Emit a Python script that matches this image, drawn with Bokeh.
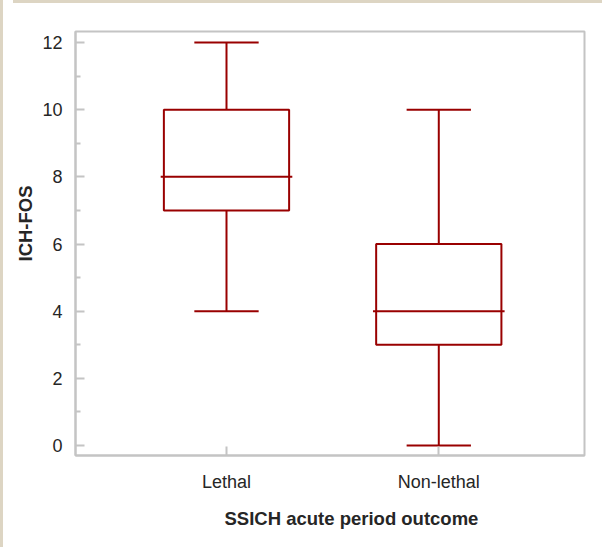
from bokeh.plotting import figure
from bokeh.models import ColumnDataSource, FixedTicker, Range1d, Title, Div
from bokeh.layouts import row, column
from bokeh.embed import file_html
from bokeh.resources import INLINE

# ---- data ----
categories = ["Lethal", "Non-lethal"]
positions = [1, 2]
lower = [4, 0]
q1 = [7, 3]
median = [8, 4]
q3 = [10, 6]
upper = [12, 10]
y_ticks = [0, 2, 4, 6, 8, 10, 12]
x_title = "SSICH acute period outcome"
y_title = "ICH-FOS"

BOX_W = 0.59
MED_W = 0.62
CAP_W = 0.303
RED = "#990000"
GRID = "#c4c4c4"
FONT = "Liberation Sans"
TXT = "#262626"
BEIGE = "#ddd5c3"

src = ColumnDataSource(dict(
    x=positions, lower=lower, q1=q1, median=median, q3=q3, upper=upper,
    bl=[p - BOX_W / 2 for p in positions], br=[p + BOX_W / 2 for p in positions],
    ml=[p - MED_W / 2 for p in positions], mr=[p + MED_W / 2 for p in positions],
    cl=[p - CAP_W / 2 for p in positions], cr=[p + CAP_W / 2 for p in positions],
))

p = figure(width=589, height=538, output_backend="svg", toolbar_location=None,
           x_range=Range1d(0.2887, 2.6864), y_range=Range1d(-0.3, 12.33),
           min_border_left=65, min_border_right=13, min_border_top=23, min_border_bottom=91)

p.background_fill_color = "white"
p.border_fill_color = "white"
p.outline_line_color = GRID
p.outline_line_width = 2
p.xgrid.visible = False
p.ygrid.visible = False

# whiskers
p.segment(x0="x", y0="q3", x1="x", y1="upper", source=src, line_color=RED, line_width=2)
p.segment(x0="x", y0="lower", x1="x", y1="q1", source=src, line_color=RED, line_width=2)
# caps
p.segment(x0="cl", y0="upper", x1="cr", y1="upper", source=src, line_color=RED, line_width=2)
p.segment(x0="cl", y0="lower", x1="cr", y1="lower", source=src, line_color=RED, line_width=2)
# boxes
p.quad(left="bl", right="br", bottom="q1", top="q3", source=src,
       fill_color=None, line_color=RED, line_width=2)
# medians
p.segment(x0="ml", y0="median", x1="mr", y1="median", source=src, line_color=RED, line_width=2)

for ax in (p.xaxis[0], p.yaxis[0]):
    ax.axis_line_color = GRID
    ax.axis_line_width = 2
    ax.major_tick_line_color = GRID
    ax.major_tick_line_width = 2
    ax.minor_tick_line_color = GRID
    ax.minor_tick_line_width = 2
    ax.major_tick_in = 9
    ax.major_tick_out = 0
    ax.minor_tick_in = 5
    ax.minor_tick_out = 0
    ax.major_label_text_font = FONT
    ax.major_label_text_font_size = "18px"
    ax.major_label_text_color = TXT

p.xaxis.ticker = FixedTicker(ticks=positions)
p.xaxis.major_label_overrides = {pos: c for pos, c in zip(positions, categories)}
p.xaxis.major_label_standoff = 16
p.yaxis.ticker = FixedTicker(ticks=y_ticks, minor_ticks=list(range(1, 12, 2)))
p.yaxis.major_label_standoff = 13

p.add_layout(Title(text=x_title, align="left", offset=149, standoff=22,
                   text_font=FONT, text_font_size="18.5px", text_font_style="bold",
                   text_color=TXT), "below")
p.add_layout(Title(text=y_title, align="left", offset=194, standoff=8,
                   text_font=FONT, text_font_size="18.5px", text_font_style="bold",
                   text_color=TXT), "left")

left_strip = Div(width=6, height=550, styles={"background-color": BEIGE})
top_strip = Div(width=594, height=6, styles={"background-color": BEIGE})
layout = row(left_strip, column(top_strip, p, spacing=0), spacing=0)
layout.styles = {"margin-left": "-8px", "margin-top": "-8px"}

open("out.html", "w").write(file_html(layout, INLINE))
